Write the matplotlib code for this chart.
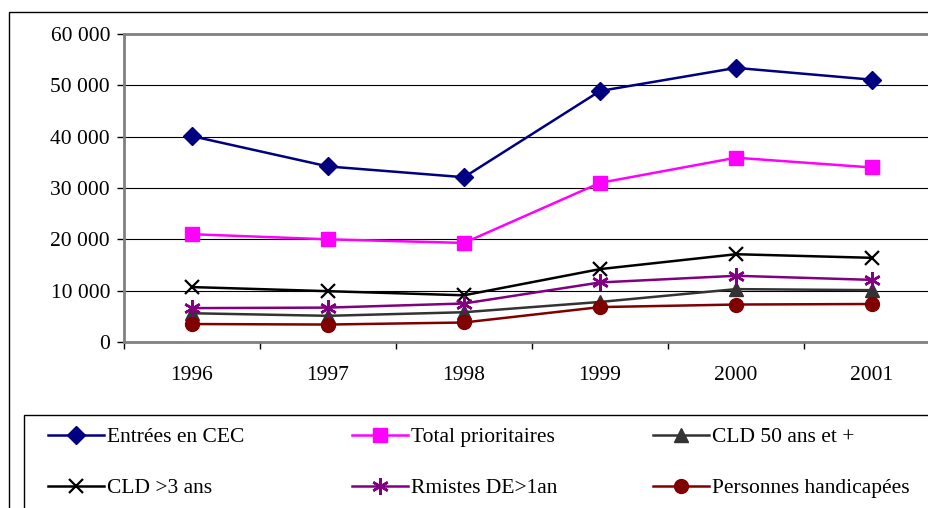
import matplotlib
matplotlib.use("Agg")
import matplotlib.pyplot as plt
from matplotlib.patches import Rectangle
from matplotlib.ticker import FuncFormatter, FixedLocator

years = ["1996", "1997", "1998", "1999", "2000", "2001"]

entrees_cec = [40100, 34200, 32100, 48900, 53400, 51100]
total_prioritaires = [21000, 20000, 19300, 31000, 35900, 34000]
cld_50_ans = [5600, 5100, 5800, 7800, 10300, 10100]
cld_3_ans = [10700, 9900, 9100, 14200, 17100, 16400]
rmistes = [6600, 6700, 7500, 11600, 12900, 12100]
handicapees = [3500, 3400, 3800, 6800, 7300, 7400]

labels = ["Entrées en CEC", "Total prioritaires", "CLD 50 ans et +",
          "CLD >3 ans", "Rmistes DE>1an", "Personnes handicapées"]

plt.rcParams['font.family'] = ['Liberation Serif', 'DejaVu Serif']
plt.rcParams['font.size'] = 15.5

W, H = 929, 508
fig = plt.figure(figsize=(W / 100, H / 100), dpi=100)

# outer frame and legend box (run off the right / bottom edges)
fig.patches.append(Rectangle((9 / W, -0.2), 1.2, 1 - 12 / H + 0.2,
                             transform=fig.transFigure, fill=False,
                             edgecolor="black", lw=1.0))
fig.patches.append(Rectangle((24 / W, -0.2), 1.2, 1 - 415 / H + 0.2,
                             transform=fig.transFigure, fill=False,
                             edgecolor="black", lw=1.0))

ax = fig.add_axes([124 / W, 1 - 342 / H, (940 - 124) / W, (342 - 34) / H])
x = list(range(len(years)))

lw = 1.8
l1, = ax.plot(x, entrees_cec, color="#000080", lw=lw, marker="D", ms=9)
l2, = ax.plot(x, total_prioritaires, color="#FF00FF", lw=lw, marker="s", ms=10)
l3, = ax.plot(x, cld_50_ans, color="#333333", lw=lw, marker="^", ms=10)
l4, = ax.plot(x, cld_3_ans, color="black", lw=lw, marker="x", ms=10, mew=1.6)
l5, = ax.plot(x, rmistes, color="#800080", lw=lw, marker=(6, 2, 0), ms=12, mew=1.8)
l6, = ax.plot(x, handicapees, color="#800000", lw=lw, marker="o", ms=10)
handles = [l1, l2, l3, l4, l5, l6]

ax.set_xlim(-0.5, 5.5)
ax.set_ylim(0, 60000)
ax.yaxis.set_major_locator(FixedLocator(range(0, 60001, 10000)))
ax.yaxis.set_major_formatter(FuncFormatter(lambda v, p: f"{int(v):,}".replace(",", " ")))
ax.set_xticks(x)
ax.set_xticklabels(years)
ax.xaxis.set_minor_locator(FixedLocator([i - 0.5 for i in range(7)]))
ax.tick_params(axis="x", which="major", length=0, pad=17)
ax.tick_params(axis="x", which="minor", length=5, width=1, color="black", direction="out")
ax.tick_params(axis="y", length=5, width=1, direction="out", pad=5)
ax.grid(True, axis="y", color="black", lw=0.8)
ax.set_axisbelow(True)
for s in ax.spines.values():
    s.set_color("#808080")
    s.set_linewidth(2)

# legend: three columns
col_x = [48, 352, 653]
for i, cx in enumerate(col_x):
    fig.legend([handles[i], handles[i + 3]], [labels[i], labels[i + 3]],
               loc="upper left", bbox_to_anchor=(cx / W, 1 - 427 / H),
               frameon=False, handlelength=2.6, handletextpad=0.15,
               labelspacing=1.45, borderaxespad=0, borderpad=0)

fig.savefig("out.png", dpi=100)
